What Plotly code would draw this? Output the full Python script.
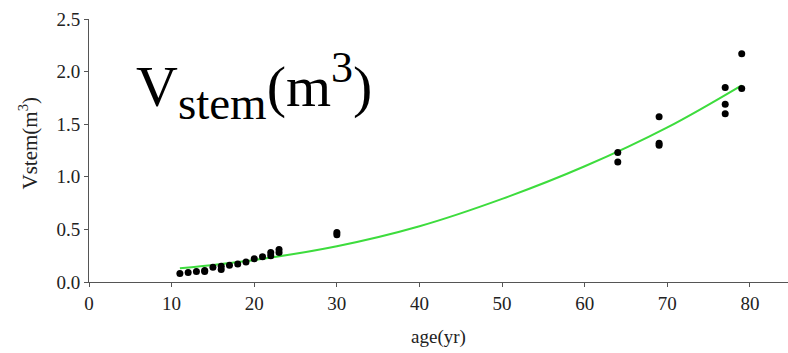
import plotly.graph_objects as go

# Observed data (age in years, stem volume in m^3)
ages = [11, 12, 13, 14, 14, 15, 16, 16, 17, 18, 19, 20, 21, 22, 22, 23, 23,
        30, 30, 64, 64, 69, 69, 69, 77, 77, 77, 79, 79]
volumes = [0.08, 0.09, 0.10, 0.10, 0.11, 0.14, 0.12, 0.15, 0.16, 0.17, 0.19, 0.22, 0.24, 0.25, 0.28, 0.28, 0.31,
           0.45, 0.47, 1.23, 1.14, 1.57, 1.32, 1.30, 1.85, 1.69, 1.60, 2.17, 1.84]

# Fitted curve
fit_ages = [11, 20, 30, 40, 50, 60, 70, 79]
fit_vals = [0.13, 0.21, 0.34, 0.53, 0.79, 1.10, 1.47, 1.87]

x_ticks = [0, 10, 20, 30, 40, 50, 60, 70, 80]
y_ticks = [0.0, 0.5, 1.0, 1.5, 2.0, 2.5]
y_tick_text = ["0.0", "0.5", "1.0", "1.5", "2.0", "2.5"]

serif = "Liberation Serif, Times New Roman, serif"

fig = go.Figure()
fig.add_trace(go.Scatter(x=fit_ages, y=fit_vals, mode="lines",
                         line=dict(color="#3ddc3d", width=2, shape="spline", smoothing=1.0),
                         hoverinfo="skip", showlegend=False))
fig.add_trace(go.Scatter(x=ages, y=volumes, mode="markers",
                         marker=dict(color="black", size=7),
                         showlegend=False))

fig.update_layout(
    width=788, height=353,
    margin=dict(l=89, r=0, t=19, b=71),
    paper_bgcolor="white", plot_bgcolor="white",
    font=dict(family=serif, color="#222222", size=19),
    xaxis=dict(range=[0, 84.6], tickvals=x_ticks, showgrid=False, zeroline=False,
               showline=True, linecolor="#555555", linewidth=1,
               ticks="outside", ticklen=4, tickcolor="#555555",
               tickfont=dict(family=serif, size=19, color="#222222"),
               title=dict(text="age(yr)", font=dict(family=serif, size=19, color="#222222"), standoff=16)),
    yaxis=dict(range=[0, 2.5], tickvals=y_ticks, ticktext=y_tick_text, showgrid=False, zeroline=False,
               showline=True, linecolor="#555555", linewidth=1,
               ticks="outside", ticklen=4, tickcolor="#555555",
               tickfont=dict(family=serif, size=19, color="#222222")),
)

fig.add_annotation(text="Vstem(m<sup>3</sup>)", xref="paper", yref="paper",
                   x=-0.086, y=0.53, xanchor="center", yanchor="middle", textangle=-90,
                   showarrow=False, font=dict(family=serif, size=21, color="#222222"))

fig.add_annotation(
    text="V<sub><span style='font-size:47px'>stem</span></sub>(m<sup><span style='font-size:44px'>3</span></sup>)",
    xref="paper", yref="paper", x=0.064, y=0.915, xanchor="left", yanchor="top",
    showarrow=False, font=dict(family=serif, size=58, color="black"))

fig.write_html("out.html")
